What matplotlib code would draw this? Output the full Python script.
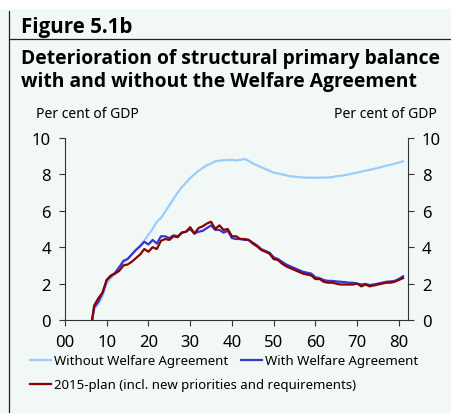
import numpy as np
import matplotlib.pyplot as plt
from matplotlib.lines import Line2D
from matplotlib.patches import Rectangle

plt.rcParams['font.family'] = ['Noto Sans', 'DejaVu Sans']

# years after 2000
years = [6.5] + list(range(7, 82))

without_wa = [0.0, 0.6, 0.9, 1.3, 2.0, 2.3, 2.55, 2.85, 3.15, 3.35, 3.6, 3.85, 4.1, 4.35,
              4.7, 5.0, 5.4, 5.6, 5.95, 6.3, 6.65, 7.0, 7.3, 7.55, 7.8, 8.0, 8.2, 8.35,
              8.5, 8.6, 8.72, 8.75, 8.78, 8.78, 8.8, 8.77, 8.8, 8.85, 8.75, 8.6, 8.5,
              8.4, 8.3, 8.2, 8.1, 8.05, 8.0, 7.95, 7.9, 7.88, 7.85, 7.83, 7.82, 7.82,
              7.82, 7.82, 7.82, 7.83, 7.85, 7.9, 7.92, 7.96, 8.0, 8.05, 8.1, 8.15, 8.2,
              8.25, 8.3, 8.35, 8.42, 8.48, 8.53, 8.58, 8.65, 8.72]

with_wa = [0.0, 0.7, 1.0, 1.5, 2.2, 2.4, 2.6, 2.9, 3.25, 3.35, 3.6, 3.85, 4.05, 4.3,
           4.15, 4.4, 4.2, 4.6, 4.6, 4.5, 4.65, 4.6, 4.8, 4.85, 5.0, 4.75, 4.85, 4.9,
           5.05, 5.2, 4.95, 4.95, 4.8, 4.9, 4.5, 4.45, 4.45, 4.4, 4.4, 4.25, 4.1,
           3.9, 3.8, 3.7, 3.45, 3.35, 3.2, 3.05, 2.95, 2.85, 2.75, 2.65, 2.6, 2.55,
           2.35, 2.3, 2.2, 2.15, 2.15, 2.12, 2.1, 2.08, 2.05, 2.05, 2.0, 1.95, 1.98,
           1.92, 1.95, 2.0, 2.05, 2.1, 2.12, 2.15, 2.25, 2.4]

plan_2015 = [0.0, 0.8, 1.2, 1.5, 2.2, 2.45, 2.55, 2.7, 3.0, 3.05, 3.2, 3.4, 3.6, 3.9,
             3.75, 4.0, 3.9, 4.35, 4.45, 4.4, 4.6, 4.55, 4.8, 4.85, 5.1, 4.75, 5.05,
             5.15, 5.3, 5.4, 5.0, 5.2, 4.95, 5.0, 4.6, 4.6, 4.45, 4.45, 4.4, 4.2,
             4.05, 3.85, 3.75, 3.65, 3.35, 3.3, 3.1, 2.95, 2.85, 2.75, 2.65, 2.55,
             2.5, 2.45, 2.25, 2.25, 2.1, 2.05, 2.05, 2.0, 1.95, 1.95, 1.95, 1.95,
             2.0, 1.85, 1.95, 1.85, 1.9, 1.95, 2.0, 2.05, 2.05, 2.1, 2.2, 2.3]

xticks = [0, 10, 20, 30, 40, 50, 60, 70, 80]
xlabels = ['00', '10', '20', '30', '40', '50', '60', '70', '80']
yticks = [0, 2, 4, 6, 8, 10]

labels = ['Without Welfare Agreement', 'With Welfare Agreement',
          '2015-plan (incl. new priorities and requirements)']
colors = ['#9cccfc', '#3535d0', '#8b0000']

W, H = 451, 414
fig = plt.figure(figsize=(W / 100, H / 100), dpi=100, facecolor='white')

# background panel and frame lines
fig.add_artist(Rectangle((0, 0), 1, (H - 10) / H, transform=fig.transFigure,
                         facecolor='#f1f8f5', edgecolor='none', zorder=-5))
fig.add_artist(Line2D([9 / W, 9 / W], [0, (H - 12) / H], transform=fig.transFigure,
                      color='#222222', lw=0.9))
fig.add_artist(Line2D([9 / W, 1], [(H - 40) / H] * 2, transform=fig.transFigure,
                      color='#222222', lw=0.9))

title_font = ['Open Sans', 'Lato', 'DejaVu Sans']
fig.text(21 / W, (H - 33) / H, 'Figure 5.1b', fontsize=14.8, fontweight='bold',
         family=title_font, va='baseline', ha='left')
fig.text(21 / W, (H - 64) / H, 'Deterioration of structural primary balance',
         fontsize=13.9, fontweight='bold', family=title_font, va='baseline', ha='left')
fig.text(21 / W, (H - 87) / H, 'with and without the Welfare Agreement',
         fontsize=13.9, fontweight='bold', family=title_font, va='baseline', ha='left')

fig.text(36 / W, (H - 114) / H, 'Per cent of GDP', fontsize=10, va='center', ha='left')
fig.text(437 / W, (H - 114) / H, 'Per cent of GDP', fontsize=10, va='center', ha='right')

ax = fig.add_axes([65 / W, (H - 321) / H, (408 - 65) / W, (321 - 139) / H])
ax.set_facecolor('none')

ax.plot(years, without_wa, color=colors[0], lw=1.6, label=labels[0])
ax.plot(years, with_wa, color=colors[1], lw=1.6, label=labels[1])
ax.plot(years, plan_2015, color=colors[2], lw=1.6, label=labels[2])

ax.set_xlim(0, 82.2)
ax.set_ylim(0, 10)
ax.set_xticks(xticks)
ax.set_xticklabels(xlabels)
ax.set_yticks(yticks)
ax.spines['top'].set_visible(False)
for s in ['left', 'right', 'bottom']:
    ax.spines[s].set_color('#333333')
    ax.spines[s].set_linewidth(0.8)
ax.tick_params(axis='y', left=True, right=True, labelleft=True, labelright=True,
               direction='out', length=4, width=0.8, pad=6, labelsize=12, color='#333333')
ax.tick_params(axis='x', direction='out', length=4, width=0.8, pad=6, labelsize=12,
               color='#333333')

handles = ax.get_lines()
fig.legend(handles[:2], labels[:2], loc='center left', bbox_to_anchor=(30 / W, (H - 362) / H),
           ncol=2, frameon=False, fontsize=9.5, handlelength=1.6, handletextpad=0.2,
           columnspacing=1.0, borderaxespad=0, borderpad=0)
fig.legend(handles[2:], labels[2:], loc='center left', bbox_to_anchor=(30 / W, (H - 386) / H),
           frameon=False, fontsize=9.5, handlelength=1.6, handletextpad=0.2,
           borderaxespad=0, borderpad=0)

fig.savefig('out.png', dpi=100, facecolor=fig.get_facecolor())
